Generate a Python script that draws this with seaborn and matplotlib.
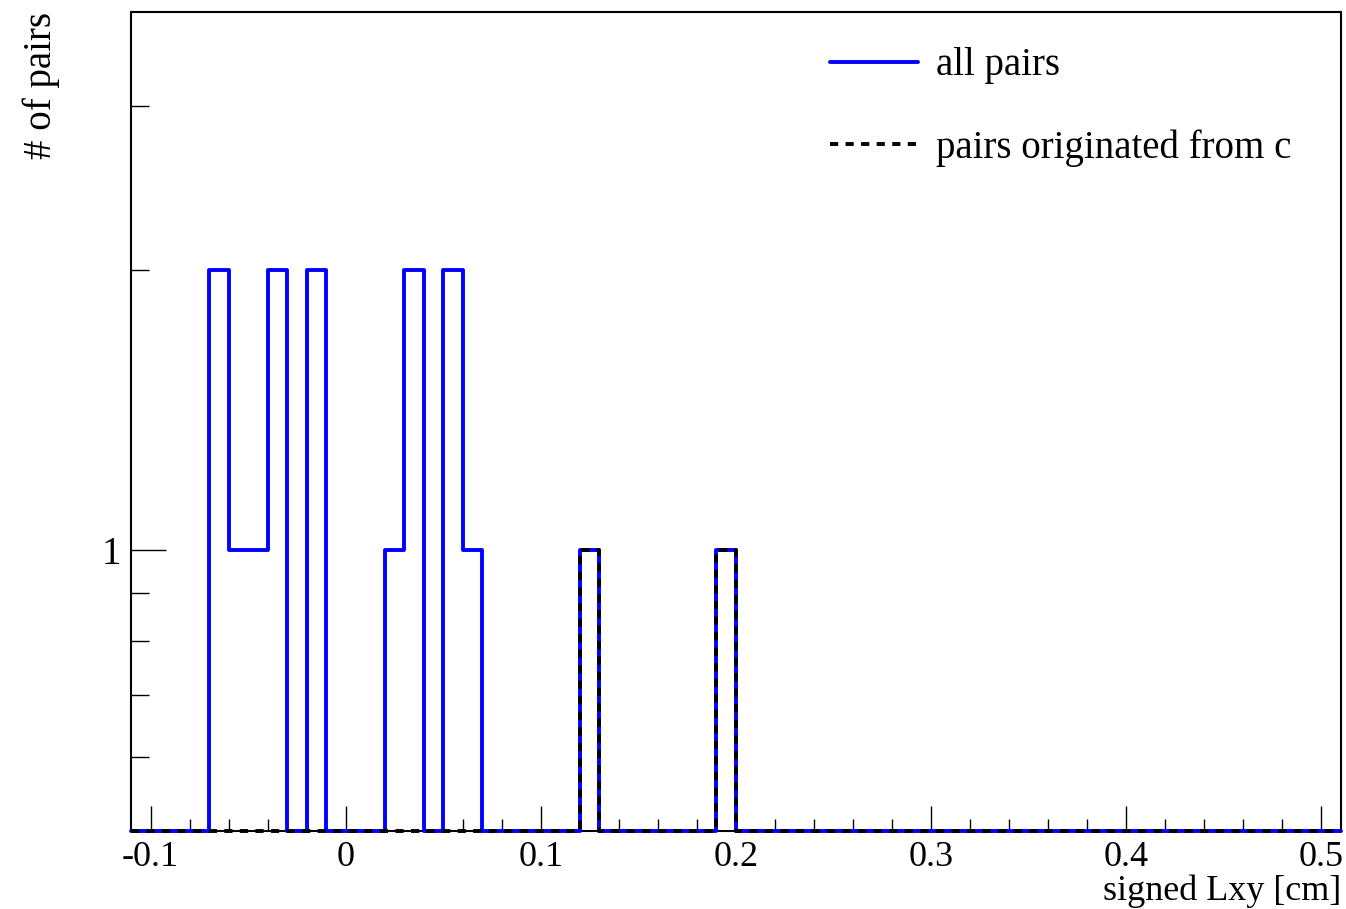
import numpy as np
import pandas as pd
import matplotlib
matplotlib.use("Agg")
import matplotlib.pyplot as plt
from matplotlib.ticker import MultipleLocator, NullFormatter, FuncFormatter
from matplotlib.lines import Line2D
import seaborn as sns

# Histogram binning: 62 bins of 0.01 cm between -0.11 and 0.51 cm
x_min, x_max, n_bins = -0.11, 0.51, 62

# Non-empty bins (lower edge in cm) and their contents
all_pairs_bins = [-0.07, -0.06, -0.05, -0.04, -0.02, 0.02, 0.03, 0.05, 0.06, 0.12, 0.19]
all_pairs_counts = [2, 1, 1, 2, 2, 1, 2, 2, 1, 1, 1]
charm_pairs_bins = [0.12, 0.19]
charm_pairs_counts = [1, 1]

series_labels = ["all pairs", "pairs originated from c"]
x_label = "signed Lxy [cm]"
y_label = "# of pairs"
y_min, y_max = 0.5, 3.78

edges = np.linspace(x_min, x_max, n_bins + 1)


def fill_bins(lows, counts):
    h = np.zeros(n_bins)
    for lo, c in zip(lows, counts):
        idx = int(round((lo - x_min) / (x_max - x_min) * n_bins))
        h[idx] = c
    return h


h_all = fill_bins(all_pairs_bins, all_pairs_counts)
h_c = fill_bins(charm_pairs_bins, charm_pairs_counts)

sns.set_style("white")
plt.rcParams["font.family"] = ["Liberation Serif", "DejaVu Serif"]
plt.rcParams["text.color"] = "black"
plt.rcParams["axes.labelcolor"] = "black"

FS = 28
FS_X = 26
LW = 2.8
DASH = (2.1, 1.9)

fig = plt.figure(figsize=(13.46, 9.09), dpi=100)
ax = fig.add_axes([131 / 1346, 1 - 831 / 909, 1210 / 1346, 819 / 909])


def step_frame(h):
    # empty bins sit on the lower edge of the log axis
    shown = np.maximum(h, y_min)
    return pd.DataFrame({"x": edges, "y": np.append(shown, shown[-1])})


blue = "#0000ff"
sns.lineplot(data=step_frame(h_all), x="x", y="y", drawstyle="steps-post",
             estimator=None, sort=False, color=blue, linewidth=LW,
             clip_on=False, ax=ax, zorder=3)
sns.lineplot(data=step_frame(h_c), x="x", y="y", drawstyle="steps-post",
             estimator=None, sort=False, color="black", linewidth=LW,
             clip_on=False, ax=ax, zorder=4)
ax.lines[1].set_dashes(DASH)

ax.set_yscale("log")
ax.set_xlim(x_min, x_max)
ax.set_ylim(y_min, y_max)

ax.xaxis.set_major_locator(MultipleLocator(0.1))
ax.xaxis.set_minor_locator(MultipleLocator(0.02))
ax.xaxis.set_major_formatter(
    FuncFormatter(lambda v, p: "0" if abs(v) < 1e-9 else f"{v:g}"))
ax.set_yticks([1], labels=["1"])
ax.set_yticks([0.6, 0.7, 0.8, 0.9, 2, 3], minor=True)
ax.yaxis.set_minor_formatter(NullFormatter())

ax.tick_params(axis="both", which="both", direction="in", colors="black",
               width=1.0, bottom=True, left=True, top=False, right=False)
ax.tick_params(axis="x", which="major", length=18, pad=7.5, labelsize=FS_X)
ax.tick_params(axis="x", which="minor", length=8.6)
ax.tick_params(axis="y", which="major", length=25, pad=7, labelsize=FS)
ax.tick_params(axis="y", which="minor", length=13)

for s in ax.spines.values():
    s.set_visible(True)
    s.set_color("black")
    s.set_linewidth(1.5)

ax.set_xlabel(x_label, fontsize=FS_X, loc="right")
ax.xaxis.set_label_coords(1.0, -0.0535)
ax.set_ylabel(y_label, fontsize=FS, loc="top")
ax.yaxis.set_label_coords(-0.059, 1.0)

handles = [Line2D([], [], color=blue, linewidth=LW),
           Line2D([], [], color="black", linewidth=LW, dashes=DASH)]
ax.legend(handles, series_labels, loc="upper left",
          bbox_to_anchor=(0.578, 0.957), frameon=False, fontsize=FS,
          handlelength=2.26, handletextpad=0.46, labelspacing=1.15,
          borderpad=0, borderaxespad=0)

fig.savefig("out.png", dpi=100, facecolor="white")
